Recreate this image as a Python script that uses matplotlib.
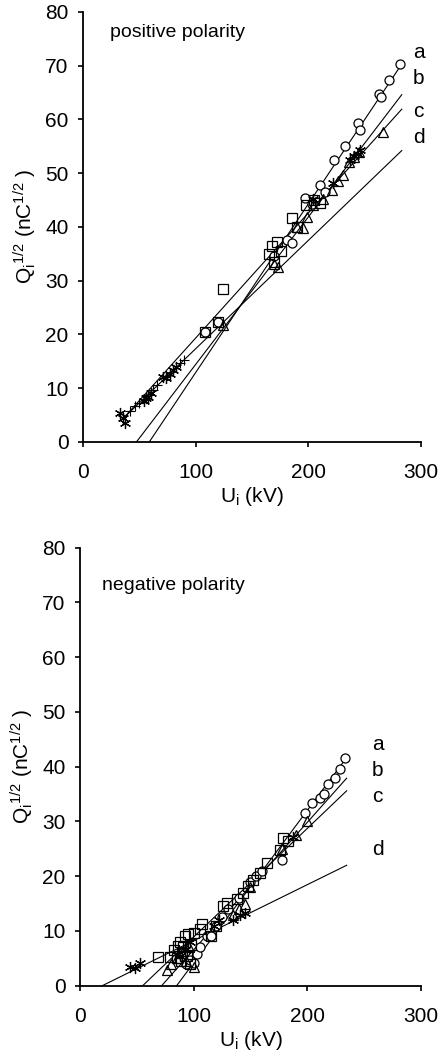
import numpy as np
import matplotlib
matplotlib.use('Agg')
import matplotlib.pyplot as plt

plt.rcParams['font.family'] = ['Liberation Sans', 'DejaVu Sans']
plt.rcParams['mathtext.fontset'] = 'custom'
plt.rcParams['mathtext.rm'] = 'Liberation Sans'
plt.rcParams['mathtext.it'] = 'Liberation Sans'

#Donnees - polarite positive
pos_circ_u = [108, 120, 170, 181, 186, 197, 203, 210, 215, 223, 233, 244, 246, 263, 265, 272, 281]
pos_circ_q = [20.5, 22.3, 34.5, 37.5, 37.0, 45.4, 44.2, 47.8, 46.5, 52.5, 55.1, 59.4, 58.0, 64.8, 64.1, 67.4, 70.3]
pos_sq_u = [108, 120, 124, 165, 168, 170, 172, 176, 186, 190, 198, 205, 210]
pos_sq_q = [20.5, 22.3, 28.4, 34.9, 36.4, 33.5, 37.1, 35.5, 41.6, 40.0, 44.0, 45.0, 44.5]
pos_tri_u = [124.5, 170, 173, 190, 195.5, 198.5, 204, 213.4, 220.7, 226, 231, 236, 241, 245, 266.5]
pos_tri_q = [21.7, 33.0, 32.5, 40.0, 39.7, 41.8, 44.0, 45.1, 46.9, 48.5, 49.7, 52.0, 53.0, 54.0, 57.7]
pos_ast_u = [33, 35.8, 37, 54, 56, 58, 60, 71, 74, 77, 80, 83, 204, 222, 237, 241, 244, 246]
pos_ast_q = [5.3, 4.4, 3.5, 7.5, 8.2, 8.4, 9.0, 12.0, 11.8, 12.6, 13.4, 14.0, 45.2, 48.2, 52.5, 53.1, 53.6, 54.3]
pos_plus_u = [42, 46, 50, 62, 66, 86, 90]
pos_plus_q = [5.8, 6.6, 7.3, 9.6, 10.5, 14.6, 15.2]

pos_fit_labels = ['a', 'b', 'c', 'd']
pos_fit_u0 = [59, 47.6, 36, 36]
pos_fit_q0 = [0, 0, 4.4, 4.4]
pos_fit_u1 = [283, 283, 283, 283]
pos_fit_q1 = [70.3, 64.6, 61.9, 54.2]
pos_label_q = [72.4, 67.7, 61.4, 56.7]

#Donnees - polarite negative
neg_circ_u = [93, 96.7, 100, 102.6, 106, 111.4, 115, 120, 125, 130, 140, 150, 155, 160, 177.4, 197.9, 203.8, 211, 215, 218.4, 224, 229, 233]
neg_circ_q = [4.0, 4.7, 4.2, 5.8, 7.0, 9.1, 9.0, 11.0, 12.5, 14.0, 16.0, 19.0, 20.0, 21.0, 23.0, 31.5, 33.3, 34.2, 35.0, 36.9, 38.0, 39.5, 41.5]
neg_sq_u = [69, 79, 83, 85, 86, 88, 89, 90, 91, 92, 94, 95, 97, 98, 100, 105.5, 107, 115, 120, 126, 128.9, 137.8, 143.6, 148, 152.4, 158.3, 164.2, 175.9, 178.8, 183]
neg_sq_q = [5.3, 5.3, 6.5, 5.0, 7.2, 8.0, 4.5, 6.0, 7.0, 9.0, 5.5, 9.5, 4.0, 7.5, 9.6, 10.3, 11.2, 9.0, 11.0, 14.6, 15.2, 15.8, 17.0, 18.2, 19.4, 20.6, 22.4, 24.8, 26.9, 26.5]
neg_tri_u = [76.2, 80, 85, 90, 93, 96, 100, 135, 140, 145, 150, 178, 190, 200]
neg_tri_q = [2.9, 4.0, 5.0, 6.0, 4.5, 7.0, 3.5, 13.0, 14.0, 15.0, 18.0, 25.0, 27.5, 30.0]
neg_ast_u = [44, 48, 52.7, 88, 92, 97, 118, 122, 134.8, 140.7, 145, 187.6]
neg_ast_q = [3.5, 3.2, 4.1, 5.5, 6.5, 8.0, 11.0, 12.0, 12.0, 12.9, 13.2, 27.2]

neg_fit_labels = ['a', 'b', 'c', 'd']
neg_fit_u0 = [85, 71.8, 55.1, 19.5]
neg_fit_q0 = [0, 0, 0, 0]
neg_fit_u1 = [234, 234.6, 234.6, 234.6]
neg_fit_q1 = [41.5, 37.9, 35.6, 22.0]
neg_label_q = [44.1, 39.3, 34.5, 24.8]


def draw_panel(ax, circ, sq, tri, ast, plus, fits, labels, label_u, label_q, title, title_pos):
    for u0, q0, u1, q1 in zip(*fits):
        ax.plot([u0, u1], [q0, q1], color='black', lw=0.8, zorder=2)
    ax.plot(circ[0], circ[1], 'o', ms=6.5, mfc='white', mec='black', mew=0.9, zorder=3)
    ax.plot(sq[0], sq[1], 's', ms=7.5, mfc='none', mec='black', mew=0.9, zorder=3)
    ax.plot(tri[0], tri[1], '^', ms=7, mfc='none', mec='black', mew=0.9, zorder=3)
    ax.plot(ast[0], ast[1], marker=(6, 2, 0), ls='none', ms=8, mec='black', mew=0.9, zorder=3)
    if plus is not None:
        ax.plot(plus[0], plus[1], '+', ms=7, mec='black', mew=0.8, zorder=3)
    for lab, q in zip(labels, label_q):
        ax.text(label_u, q, lab, fontsize=15, va='center', ha='left')
    ax.text(title_pos[0], title_pos[1], title, fontsize=14, va='center', ha='left')

    ax.set_xlim(0, 300)
    ax.set_ylim(0, 80)
    ax.set_xticks([0, 100, 200, 300])
    ax.set_yticks(np.arange(0, 81, 10))
    ax.spines['top'].set_visible(False)
    ax.spines['right'].set_visible(False)
    ax.spines['left'].set_linewidth(1.3)
    ax.spines['bottom'].set_linewidth(1.3)
    ax.tick_params(axis='both', direction='out', length=3.5, width=1.2, labelsize=15)
    ax.tick_params(axis='x', pad=12)
    ax.tick_params(axis='y', pad=7)
    ax.set_xlabel('U$_\\mathregular{i}$ (kV)', fontsize=15, labelpad=2)
    ax.set_ylabel('Q$_\\mathregular{i}$$^\\mathregular{1/2}$ (nC$^\\mathregular{1/2}$ )', fontsize=15, labelpad=4)


fig = plt.figure(figsize=(4.4, 10.5), dpi=100)
ax1 = fig.add_axes([0.1886, 0.5793, 0.768, 0.4093])
ax2 = fig.add_axes([0.1818, 0.0612, 0.775, 0.4172])

draw_panel(ax1, (pos_circ_u, pos_circ_q), (pos_sq_u, pos_sq_q), (pos_tri_u, pos_tri_q),
           (pos_ast_u, pos_ast_q), (pos_plus_u, pos_plus_q),
           (pos_fit_u0, pos_fit_q0, pos_fit_u1, pos_fit_q1),
           pos_fit_labels, 293, pos_label_q, 'positive polarity', (24, 76.1))
draw_panel(ax2, (neg_circ_u, neg_circ_q), (neg_sq_u, neg_sq_q), (neg_tri_u, neg_tri_q),
           (neg_ast_u, neg_ast_q), None,
           (neg_fit_u0, neg_fit_q0, neg_fit_u1, neg_fit_q1),
           neg_fit_labels, 257, neg_label_q, 'negative polarity', (19.4, 73.1))

fig.savefig('out.png', dpi=100)
